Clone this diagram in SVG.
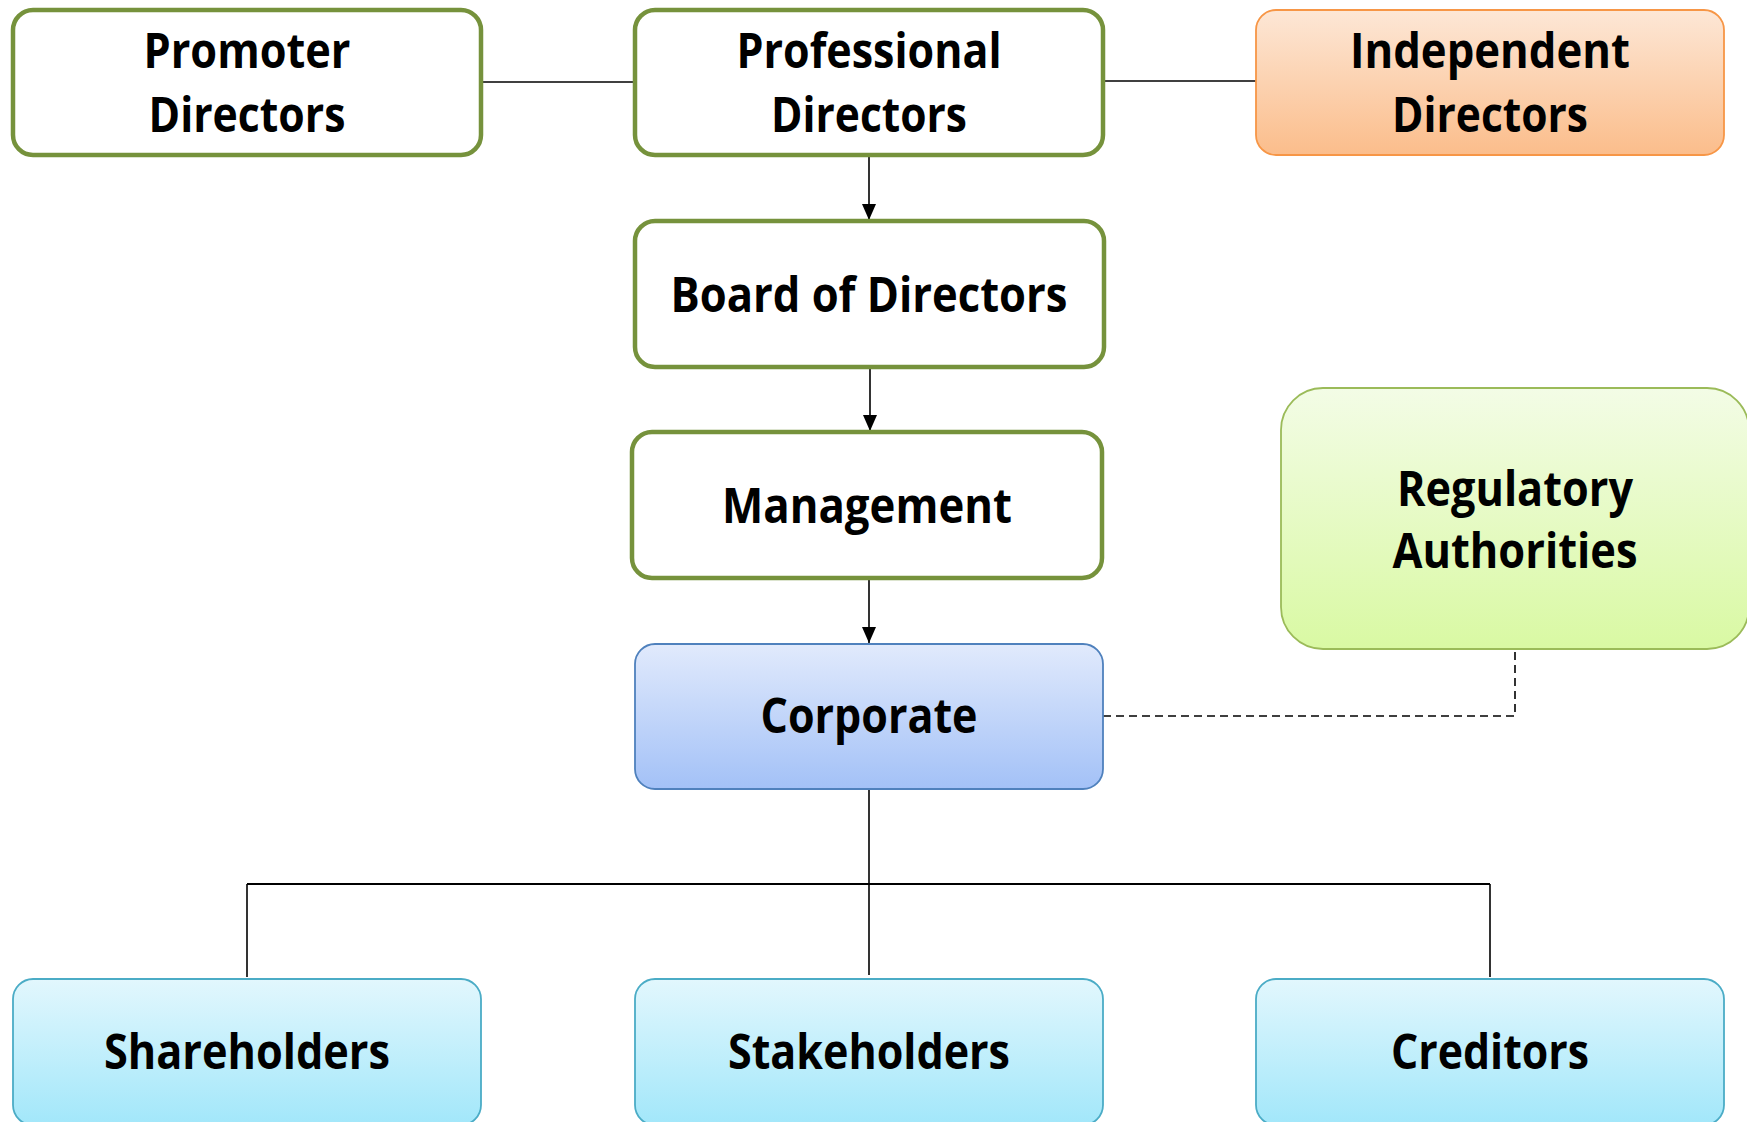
<svg xmlns="http://www.w3.org/2000/svg" width="1747" height="1122" viewBox="0 0 1747 1122">
<defs>
<linearGradient id="gOrange" x1="0" y1="0" x2="0" y2="1"><stop offset="0" stop-color="#FDE7D6"/><stop offset="1" stop-color="#FBBD8B"/></linearGradient>
<linearGradient id="gLime" x1="0" y1="0" x2="0" y2="1"><stop offset="0" stop-color="#F3FCE6"/><stop offset="1" stop-color="#D9F9A3"/></linearGradient>
<linearGradient id="gBlue" x1="0" y1="0" x2="0" y2="1"><stop offset="0" stop-color="#E1EAFC"/><stop offset="1" stop-color="#A3C1F7"/></linearGradient>
<linearGradient id="gCyan" x1="0" y1="0" x2="0" y2="1"><stop offset="0" stop-color="#E2F7FD"/><stop offset="1" stop-color="#A2E7FA"/></linearGradient>
<marker id="arr" viewBox="0 0 16 14" refX="16" refY="7" markerWidth="16" markerHeight="14" markerUnits="userSpaceOnUse" orient="auto"><path d="M0,0 L16,7 L0,14 Z" fill="#000"/></marker>
</defs>
<style>
.g{fill:#fff;stroke:#76923C;stroke-width:4.5}
.o{fill:url(#gOrange);stroke:#F79646;stroke-width:1.8}
.l{fill:url(#gLime);stroke:#9BBB59;stroke-width:1.8}
.b{fill:url(#gBlue);stroke:#4F81BD;stroke-width:1.8}
.c{fill:url(#gCyan);stroke:#4BACC6;stroke-width:1.8}
text{font-family:"Open Sans","Noto Sans","Liberation Sans",sans-serif;font-weight:700;font-size:48px;fill:#000;text-anchor:middle}
.ln{stroke:#000;stroke-width:1.6;fill:none}
.dash{stroke:#000;stroke-width:1.6;fill:none;stroke-dasharray:8 5}
</style>
<rect width="1747" height="1122" fill="#fff"/>
<g id="connectors">
<line class="ln" x1="481" y1="82" x2="635" y2="82"/>
<line class="ln" x1="1103" y1="81" x2="1256" y2="81"/>
<line class="ln" x1="869" y1="156" x2="869" y2="220" marker-end="url(#arr)"/>
<line class="ln" x1="870" y1="367" x2="870" y2="431" marker-end="url(#arr)"/>
<line class="ln" x1="869" y1="578" x2="869" y2="643" marker-end="url(#arr)"/>
<path class="dash" d="M1103,716 H1515 V649"/>
<line class="ln" x1="869" y1="789" x2="869" y2="975"/>
<line x1="247" y1="884" x2="1490" y2="884" stroke="#000" stroke-width="2.2"/>
<line class="ln" x1="247" y1="884" x2="247" y2="977"/>
<line class="ln" x1="1490" y1="884" x2="1490" y2="977"/>
</g>
<g id="promoter">
<rect class="g" x="13" y="10" width="468" height="145" rx="20"/>
<text x="247" y="68" textLength="207" lengthAdjust="spacingAndGlyphs">Promoter</text>
<text x="247" y="132" textLength="197" lengthAdjust="spacingAndGlyphs">Directors</text>
</g>
<g id="professional">
<rect class="g" x="635" y="10" width="468" height="145" rx="20"/>
<text x="869" y="68" textLength="265" lengthAdjust="spacingAndGlyphs">Professional</text>
<text x="869" y="132" textLength="196" lengthAdjust="spacingAndGlyphs">Directors</text>
</g>
<g id="independent">
<rect class="o" x="1256" y="10" width="468" height="145" rx="20"/>
<text x="1490" y="68" textLength="280" lengthAdjust="spacingAndGlyphs">Independent</text>
<text x="1490" y="132" textLength="196" lengthAdjust="spacingAndGlyphs">Directors</text>
</g>
<g id="board">
<rect class="g" x="635" y="221" width="469" height="146" rx="20"/>
<text x="869" y="312" textLength="397" lengthAdjust="spacingAndGlyphs">Board of Directors</text>
</g>
<g id="management">
<rect class="g" x="632" y="432" width="470" height="146" rx="20"/>
<text x="867" y="523" textLength="290" lengthAdjust="spacingAndGlyphs">Management</text>
</g>
<g id="regulatory">
<rect class="l" x="1281" y="388" width="468" height="261" rx="42"/>
<text x="1515" y="506" textLength="236" lengthAdjust="spacingAndGlyphs">Regulatory</text>
<text x="1515" y="568" textLength="245" lengthAdjust="spacingAndGlyphs">Authorities</text>
</g>
<g id="corporate">
<rect class="b" x="635" y="644" width="468" height="145" rx="20"/>
<text x="869" y="733" textLength="217" lengthAdjust="spacingAndGlyphs">Corporate</text>
</g>
<g id="shareholders">
<rect class="c" x="13" y="979" width="468" height="146" rx="20"/>
<text x="247" y="1069" textLength="286" lengthAdjust="spacingAndGlyphs">Shareholders</text>
</g>
<g id="stakeholders">
<rect class="c" x="635" y="979" width="468" height="146" rx="20"/>
<text x="869" y="1069" textLength="282" lengthAdjust="spacingAndGlyphs">Stakeholders</text>
</g>
<g id="creditors">
<rect class="c" x="1256" y="979" width="468" height="146" rx="20"/>
<text x="1490" y="1069" textLength="198" lengthAdjust="spacingAndGlyphs">Creditors</text>
</g>
</svg>
